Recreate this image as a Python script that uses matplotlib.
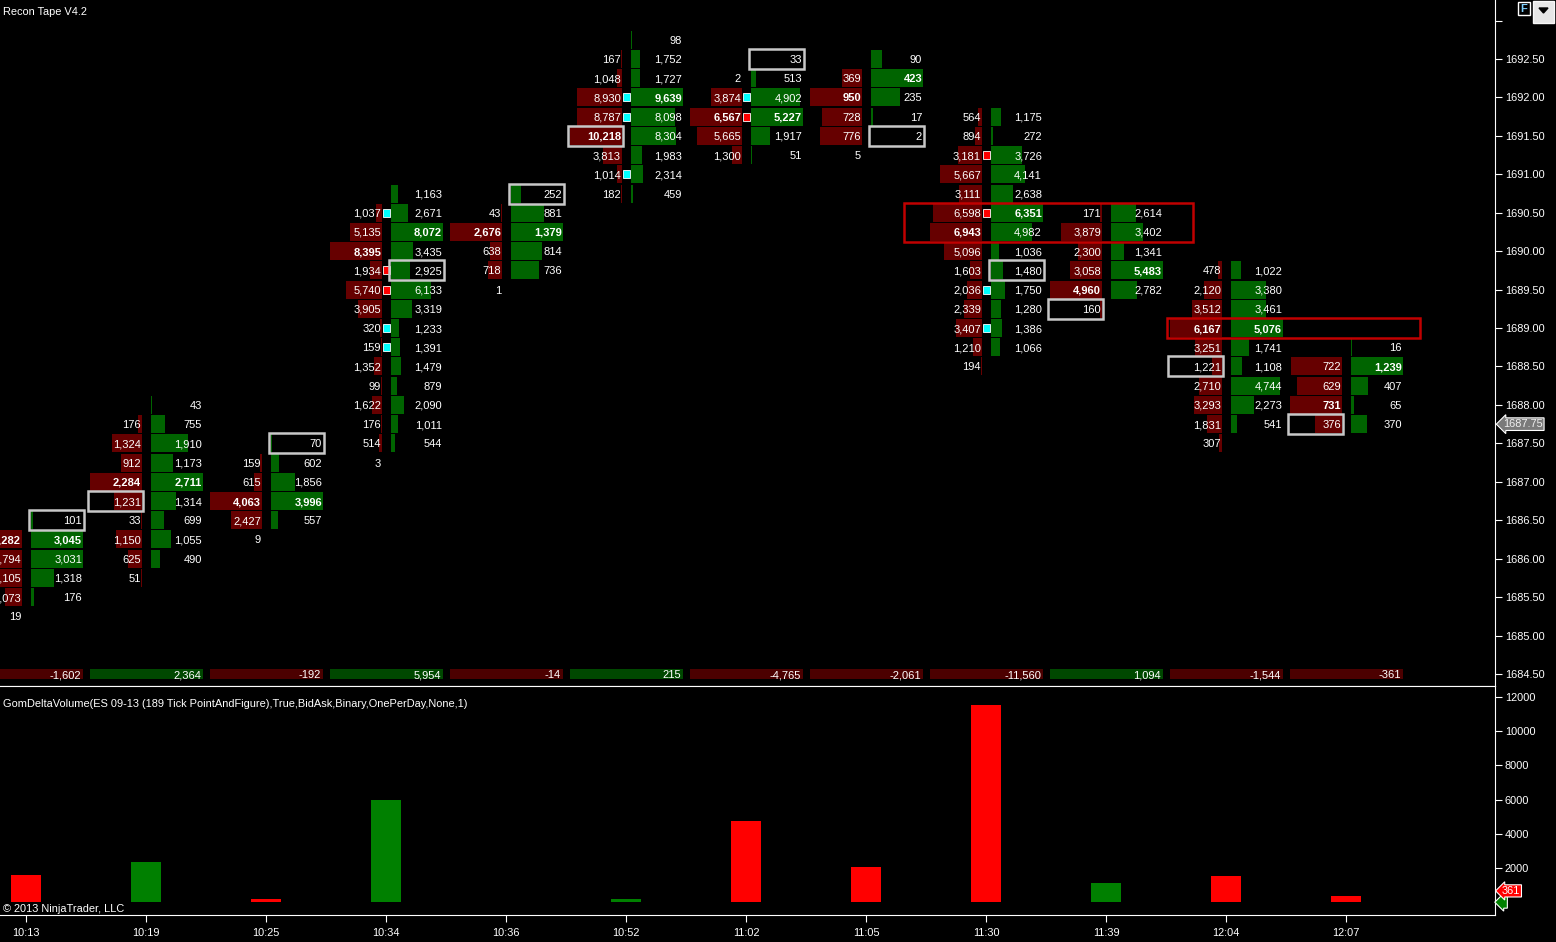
import numpy as np
import matplotlib
matplotlib.use('Agg')
import matplotlib.pyplot as plt
from matplotlib.patches import Rectangle, Polygon
from matplotlib.transforms import blended_transform_factory

plt.rcParams['font.family'] = ['Liberation Sans', 'DejaVu Sans']

# footprint columns (one per point & figure bar)
times = ['10:13', '10:19', '10:25', '10:34', '10:36', '10:52',
         '11:02', '11:05', '11:30', '11:39', '12:04', '12:07']
top_prices = [1686.50, 1688.00, 1687.50, 1690.75, 1690.75, 1692.75,
              1692.50, 1692.50, 1691.75, 1690.50, 1689.75, 1688.75]

# bid / ask volume per price row, from the top row down
bids = [
    [None, 3282, 2794, 2105, 1073, 19],
    [None, 176, 1324, 912, 2284, 1231, 33, 1150, 625, 51],
    [None, 159, 615, 4063, 2427, 9],
    [None, 1037, 5135, 8395, 1934, 5740, 3905, 320, 159, 1352, 99, 1622, 176, 514, 3],
    [None, 43, 2676, 638, 718, 1],
    [None, 167, 1048, 8930, 8787, 10218, 3813, 1014, 182],
    [None, 2, 3874, 6567, 5665, 1300],
    [None, 369, 950, 728, 776, 5],
    [564, 894, 3181, 5667, 3111, 6598, 6943, 5096, 1603, 2036, 2339, 3407, 1210, 194],
    [171, 3879, 2300, 3058, 4960, 160],
    [478, 2120, 3512, 6167, 3251, 1221, 2710, 3293, 1831, 307],
    [None, 722, 629, 731, 376],
]
asks = [
    [101, 3045, 3031, 1318, 176, None],
    [43, 755, 1910, 1173, 2711, 1314, 699, 1055, 490, None],
    [70, 602, 1856, 3996, 557, None],
    [1163, 2671, 8072, 3435, 2925, 6133, 3319, 1233, 1391, 1479, 879, 2090, 1011, 544, None],
    [252, 881, 1379, 814, 736, None],
    [98, 1752, 1727, 9639, 8098, 8304, 1983, 2314, 459],
    [33, 513, 4902, 5227, 1917, 51],
    [90, 423, 235, 17, 2, None],
    [1175, 272, 3726, 4141, 2638, 6351, 4982, 1036, 1480, 1750, 1280, 1386, 1066, None],
    [2614, 3402, 1341, 5483, 2782, None],
    [1022, 3380, 3461, 5076, 1741, 1108, 4744, 2273, 541, None],
    [16, 1239, 407, 65, 370],
]
deltas = [-1602, 2364, -192, 5954, -14, 215, -4765, -2061, -11560, 1094, -1544, -361]

# imbalance markers: (column, price, colour)
marker_cols = [3, 3, 3, 3, 3, 5, 5, 5, 6, 6, 8, 8, 8, 8]
marker_prices = [1690.50, 1689.75, 1689.50, 1689.00, 1688.75, 1692.00, 1691.75, 1691.00,
                 1692.00, 1691.75, 1691.25, 1690.50, 1689.50, 1689.00]
marker_colors = ['#00ffff', '#ff0000', '#ff0000', '#00ffff', '#00ffff', '#00ffff', '#00ffff', '#00ffff',
                 '#00ffff', '#ff0000', '#ff0000', '#ff0000', '#00ffff', '#00ffff']

# grey outlined cells: (column, price, side)
box_cols = [0, 1, 2, 3, 4, 5, 6, 7, 8, 9, 10, 11]
box_prices = [1686.50, 1686.75, 1687.50, 1689.75, 1690.75, 1691.50,
              1692.50, 1691.50, 1689.75, 1689.25, 1688.50, 1687.75]
box_sides = ['ask', 'bid', 'ask', 'ask', 'ask', 'bid', 'ask', 'ask', 'ask', 'bid', 'bid', 'bid']

# red outlined zones: (first col, last col, top row, bottom row)
zones = [(8, 9, 1690.50, 1690.25), (10, 11, 1689.00, 1689.00)]

last_price = 1687.75
price_ticks = np.arange(1684.5, 1693.01, 0.5)
vol_ticks = [2000, 4000, 6000, 8000, 10000, 12000]

W, H = 1556, 942
PX = 1 / 120.0          # one pixel in column units
PPX = 0.5 / 38.44       # one pixel in price units
TICK = 0.25

fig = plt.figure(figsize=(W / 100, H / 100), dpi=100, facecolor='black')
ax = fig.add_axes([0, 1 - 686 / H, 1495 / W, 686 / H])
ax2 = fig.add_axes([0, 1 - 915 / H, 1495 / W, (915 - 686) / H], sharex=ax)

for a in (ax, ax2):
    a.set_facecolor('black')
    for s in ('left', 'top'):
        a.spines[s].set_visible(False)
    a.spines['right'].set_color('white')
    a.spines['bottom'].set_color('white')

ax.set_xlim(-26 * PX, (1495 - 26) * PX)
ax.set_ylim(1684.5 - 12 * PPX, 1692.5 + 59 * PPX)

BAR_W = 52 * PX
ROW_H = 18 * PPX
FS = 8
LFS = 7.9
DY = -1 * PPX   # text baseline nudge

for i in range(len(times)):
    b_list, a_list = bids[i], asks[i]
    bmax = max(v for v in b_list if v is not None)
    amax = max(v for v in a_list if v is not None)
    for k in range(len(b_list)):
        p = top_prices[i] - TICK * k
        b, av = b_list[k], a_list[k]
        if b is not None:
            ln = b / bmax * BAR_W
            ax.barh(p, ln, left=i - 4 * PX - ln, height=ROW_H, color='#660000', linewidth=0)
            ax.text(i - 5 * PX, p + DY, f'{b:,}', color='white', fontsize=FS, ha='right', va='center',
                    fontweight='bold' if b == bmax else 'normal', clip_on=True)
        if av is not None:
            ln = av / amax * BAR_W
            ax.barh(p, ln, left=i + 5 * PX, height=ROW_H, color='#006400', linewidth=0)
            ax.text(i + 56 * PX, p + DY, f'{av:,}', color='white', fontsize=FS, ha='right', va='center',
                    fontweight='bold' if av == amax else 'normal', clip_on=True)

    # delta row at the bottom of the price panel
    d = deltas[i]
    ax.barh(1684.5, 113 * PX, left=i - 56 * PX, height=10 * PPX,
            color='#4c0000' if d < 0 else '#004800', linewidth=0)
    ax.text(i + 55 * PX, 1684.5 + DY, f'{d:,}', color='white', fontsize=FS, ha='right', va='center',
            clip_on=True)

for c, p, col in zip(marker_cols, marker_prices, marker_colors):
    ax.add_patch(Rectangle((c - 3 * PX, p - 4 * PPX), 7 * PX, 8 * PPX, facecolor=col,
                           edgecolor='white', linewidth=0.6))

for c, p, side in zip(box_cols, box_prices, box_sides):
    x0 = c + 3 * PX if side == 'ask' else c - 58 * PX
    ax.add_patch(Rectangle((x0, p - 10 * PPX), 55 * PX, 20 * PPX, fill=False,
                           edgecolor='#c8c8c8', linewidth=1.8))

zone_pads = [(82, 87), (59, 74)]
for (c0, c1, ptop, pbot), (lp, rp) in zip(zones, zone_pads):
    ax.add_patch(Rectangle((c0 - lp * PX, pbot - TICK / 2), (c1 - c0) + (lp + rp) * PX,
                           ptop - pbot + TICK, fill=False, edgecolor='#c00000', linewidth=1.8))

ax.yaxis.tick_right()
ax.set_yticks(price_ticks)
ax.set_yticklabels([f'{v:.2f}' if v < 1693 else '' for v in price_ticks])
ax.tick_params(axis='y', colors='white', length=5, labelsize=LFS, pad=2)
ax.tick_params(axis='x', bottom=False, labelbottom=False)

# last price tag
tr = blended_transform_factory(ax.transAxes, ax.transData)
ax.text(1.0 + 8 / 1495, last_price, f'{last_price:.2f}', transform=tr, color='#f0f0f0', fontsize=LFS,
        va='center', ha='left', clip_on=False,
        bbox=dict(boxstyle='larrow,pad=0.12', fc='#7a7a7a', ec='white', lw=0.8))

# lower panel: absolute delta volume
ax2.set_ylim(-749, 12643)
ax2.bar(range(len(times)), [abs(d) for d in deltas], width=30 * PX,
        color=['#ff0000' if d < 0 else '#008000' for d in deltas], linewidth=0)
ax2.spines['top'].set_visible(True)
ax2.spines['top'].set_color('white')
ax2.yaxis.tick_right()
ax2.set_yticks(vol_ticks)
ax2.set_yticklabels([str(v) for v in vol_ticks])
ax2.tick_params(axis='y', colors='white', length=5, labelsize=LFS, pad=2)
ax2.set_xticks(range(len(times)))
ax2.set_xticklabels(times)
ax2.tick_params(axis='x', colors='white', length=5, labelsize=LFS, pad=4)

tr2 = blended_transform_factory(ax2.transAxes, ax2.transData)
ax2.text(1.0 + 6 / 1495, 0, '0', transform=tr2, color='#008000', fontsize=7, va='center', ha='left',
         clip_on=False, bbox=dict(boxstyle='larrow,pad=0.1', fc='#008000', ec='white', lw=0.8))
ax2.text(1.0 + 7 / 1495, abs(deltas[-1]) + 300, f'{abs(deltas[-1])}', transform=tr2, color='white',
         fontsize=LFS, va='center', ha='left', clip_on=False,
         bbox=dict(boxstyle='larrow,pad=0.1', fc='#ff0000', ec='white', lw=0.8))

fig.text(3 / W, 1 - 12 / H, 'Recon Tape V4.2', color='white', fontsize=LFS, va='center')
fig.text(3 / W, 1 - 704 / H,
         'GomDeltaVolume(ES 09-13 (189 Tick PointAndFigure),True,BidAsk,Binary,OnePerDay,None,1)',
         color='white', fontsize=7.9, va='center')
fig.text(3 / W, 1 - 909 / H, '\u00a9 2013 NinjaTrader, LLC', color='white', fontsize=LFS, va='center')

# top-right widgets
fig.patches.append(Rectangle((1518 / W, 1 - 15 / H), 12 / W, 13 / H, transform=fig.transFigure,
                             facecolor='black', edgecolor='white', linewidth=1))
fig.text(1524 / W, 1 - 8.5 / H, 'F', color='#7fd0ff', fontsize=8, fontweight='bold',
         ha='center', va='center')
fig.patches.append(Rectangle((1533 / W, 1 - 23 / H), 21 / W, 22 / H, transform=fig.transFigure,
                             facecolor='#e6e6e6', edgecolor='#f8f8f8', linewidth=1))
fig.patches.append(Polygon([(1539 / W, 1 - 8 / H), (1548 / W, 1 - 8 / H), (1543.5 / W, 1 - 13 / H)],
                           closed=True, transform=fig.transFigure, facecolor='black', edgecolor='black'))

fig.savefig('out.png', dpi=100, facecolor='black')
